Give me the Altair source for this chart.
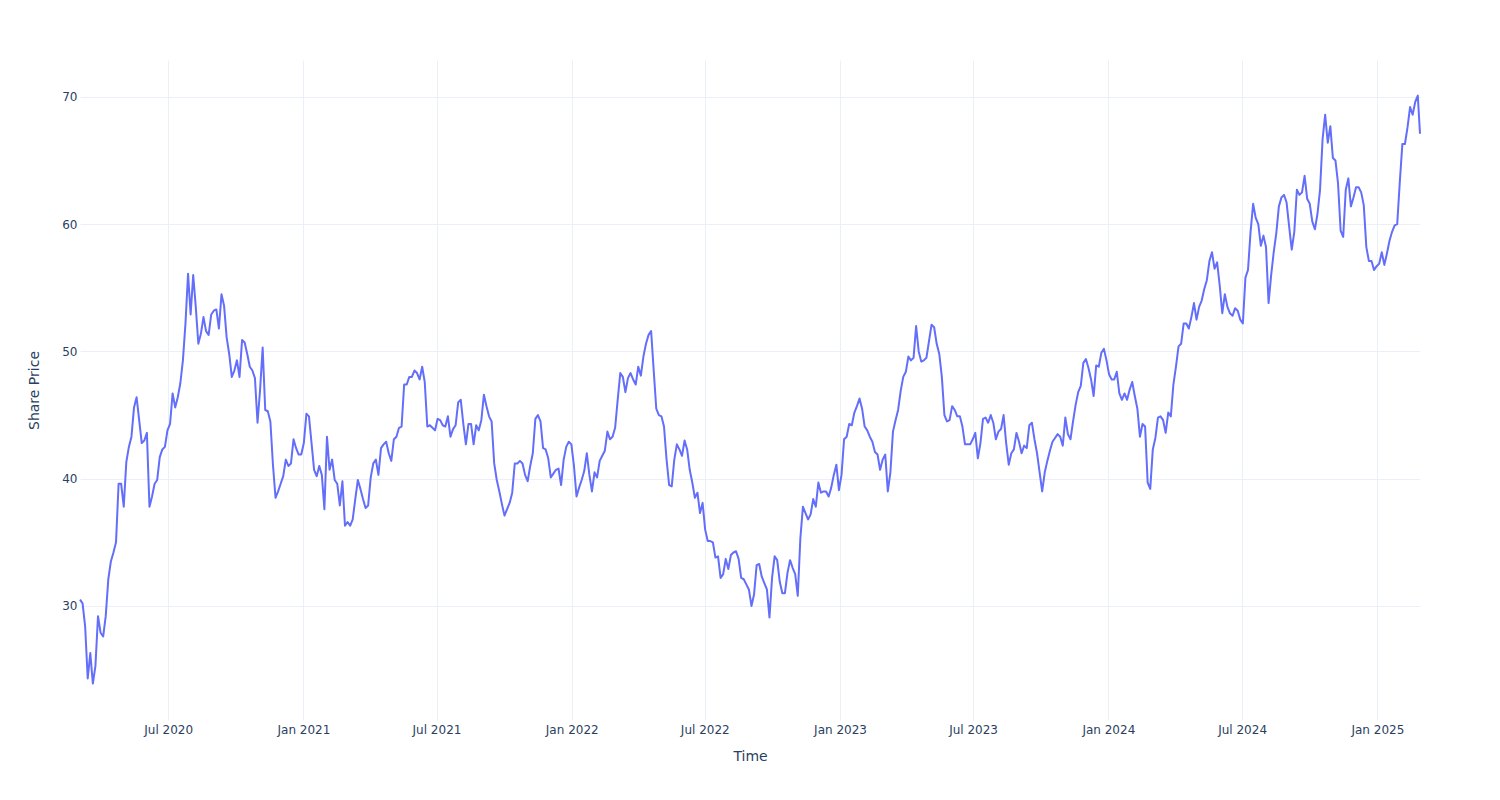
import altair as alt
import pandas as pd

# Share-price readings every half week (Mar 2020 - Feb 2025)
start_date = "2020-03-03"
step = "84h"
prices = [
    30.5, 30.2, 28.4, 24.3, 26.3, 23.9, 25.3, 29.2, 27.9, 27.6,
    29.2, 32.1, 33.5, 34.2, 35.0, 39.6, 39.6, 37.8, 41.3, 42.5,
    43.3, 45.6, 46.4, 44.6, 42.8, 43.0, 43.6, 37.8, 38.6, 39.6,
    39.9, 41.7, 42.3, 42.5, 43.8, 44.3, 46.7, 45.6, 46.4, 47.5,
    49.3, 52.2, 56.1, 52.9, 56.0, 53.5, 50.6, 51.4, 52.7, 51.6,
    51.3, 52.9, 53.2, 53.3, 51.8, 54.5, 53.6, 51.1, 49.8, 48.0,
    48.5, 49.3, 48.0, 50.9, 50.7, 49.8, 48.8, 48.5, 47.9, 44.4,
    47.0, 50.3, 45.4, 45.3, 44.5, 41.1, 38.5, 39.0, 39.6, 40.2,
    41.5, 41.0, 41.2, 43.1, 42.4, 41.9, 41.9, 42.8, 45.1, 44.9,
    42.8, 40.7, 40.2, 41.0, 40.3, 37.6, 43.3, 40.7, 41.5, 39.9,
    39.6, 37.9, 39.8, 36.3, 36.6, 36.3, 36.8, 38.4, 39.9, 39.2,
    38.4, 37.7, 37.9, 40.1, 41.2, 41.5, 40.3, 42.4, 42.7, 42.9,
    42.0, 41.4, 43.1, 43.3, 44.0, 44.1, 47.4, 47.4, 48.0, 48.0,
    48.5, 48.3, 47.8, 48.8, 47.6, 44.1, 44.2, 44.0, 43.8, 44.7,
    44.6, 44.2, 44.1, 44.9, 43.3, 43.9, 44.2, 46.0, 46.2, 44.3,
    42.7, 44.3, 44.3, 42.7, 44.2, 43.8, 44.6, 46.6, 45.7, 44.9,
    44.5, 41.2, 39.9, 39.0, 38.0, 37.1, 37.6, 38.1, 38.9, 41.2,
    41.2, 41.4, 41.2, 40.3, 39.8, 41.0, 42.0, 44.7, 45.0, 44.5,
    42.4, 42.3, 41.6, 40.1, 40.4, 40.7, 40.8, 39.5, 41.5, 42.5,
    42.9, 42.7, 41.0, 38.6, 39.3, 39.9, 40.6, 42.0, 40.3, 39.0,
    40.5, 40.1, 41.4, 41.8, 42.2, 43.7, 43.1, 43.3, 44.0, 46.2,
    48.3, 48.0, 46.8, 47.9, 48.3, 47.8, 47.4, 48.8, 48.1, 49.6,
    50.6, 51.3, 51.6, 48.5, 45.5, 45.0, 44.9, 44.1, 41.5, 39.5,
    39.4, 41.5, 42.7, 42.3, 41.8, 43.0, 42.3, 40.7, 39.7, 38.5,
    38.9, 37.3, 38.1, 36.0, 35.1, 35.1, 35.0, 33.8, 33.9, 32.2,
    32.5, 33.7, 32.9, 34.0, 34.2, 34.3, 33.7, 32.2, 32.1, 31.7,
    31.3, 30.0, 30.9, 33.2, 33.3, 32.3, 31.8, 31.3, 29.1, 32.2,
    33.9, 33.6, 31.9, 31.0, 31.0, 32.6, 33.6, 33.0, 32.5, 30.8,
    35.3, 37.8, 37.3, 36.8, 37.2, 38.4, 37.8, 39.7, 38.9, 39.0,
    39.0, 38.6, 39.3, 40.3, 41.1, 39.1, 40.3, 43.1, 43.3, 44.3,
    44.2, 45.2, 45.7, 46.3, 45.5, 44.1, 43.8, 43.3, 42.9, 42.1,
    41.9, 40.7, 41.5, 41.9, 39.0, 40.5, 43.7, 44.6, 45.4, 46.9,
    48.0, 48.4, 49.6, 49.3, 49.5, 52.0, 50.0, 49.2, 49.3, 49.5,
    50.8, 52.1, 51.9, 50.6, 49.8, 48.0, 45.0, 44.5, 44.6, 45.7,
    45.4, 44.9, 44.9, 44.1, 42.7, 42.7, 42.7, 43.1, 43.6, 41.6,
    42.8, 44.7, 44.8, 44.4, 45.0, 44.4, 43.1, 43.7, 43.9, 45.0,
    42.8, 41.1, 42.0, 42.3, 43.6, 42.9, 42.0, 42.6, 42.4, 44.2,
    44.4, 43.1, 42.0, 40.5, 39.0, 40.5, 41.4, 42.2, 42.9, 43.2,
    43.5, 43.3, 42.6, 44.8, 43.5, 43.1, 44.5, 45.8, 46.8, 47.3,
    49.1, 49.4, 48.7, 47.8, 46.5, 48.9, 48.8, 49.9, 50.2, 49.3,
    48.2, 47.8, 47.8, 48.4, 46.7, 46.2, 46.7, 46.2, 47.0, 47.6,
    46.5, 45.5, 43.3, 44.3, 44.1, 39.7, 39.2, 42.3, 43.2, 44.8,
    44.9, 44.6, 43.6, 45.2, 44.9, 47.4, 48.8, 50.4, 50.6, 52.2,
    52.2, 51.8, 52.7, 53.8, 52.5, 53.5, 54.0, 54.9, 55.6, 57.1,
    57.8, 56.5, 57.0, 55.2, 53.0, 54.5, 53.5, 53.0, 52.8, 53.4,
    53.2, 52.5, 52.2, 55.8, 56.4, 59.4, 61.6, 60.5, 60.0, 58.3,
    59.1, 58.2, 53.8, 56.0, 57.8, 59.3, 61.4, 62.1, 62.3, 61.7,
    59.8, 58.0, 59.4, 62.7, 62.3, 62.5, 63.8, 62.0, 61.6, 60.2,
    59.6, 60.8, 62.7, 66.7, 68.6, 66.4, 67.7, 65.2, 65.0, 63.2,
    59.5, 59.0, 62.7, 63.6, 61.4, 62.1, 62.9, 62.9, 62.5, 61.5,
    58.2, 57.1, 57.1, 56.4, 56.7, 56.9, 57.8, 56.8, 57.7, 58.7,
    59.4, 59.9, 60.0, 63.3, 66.3, 66.3, 67.6, 69.2, 68.6, 69.6,
    70.1,
]
last_date = "2025-02-28"
last_price = 67.1

dates = list(pd.date_range(start_date, periods=len(prices), freq=step)) + [pd.Timestamp(last_date)]
values = prices + [last_price]
df = pd.DataFrame({"Time": dates, "Share Price": values})

tick_months = [(2020, 7), (2021, 1), (2021, 7), (2022, 1), (2022, 7),
               (2023, 1), (2023, 7), (2024, 1), (2024, 7), (2025, 1)]
tick_dates = [alt.DateTime(year=y, month=m, date=1) for (y, m) in tick_months]
y_ticks = [30, 40, 50, 60, 70]

FONT = "DejaVu Sans"
TXT = "#2a3f5f"
GRID = "#EBF0F8"

chart = (
    alt.Chart(df)
    .mark_line(color="#636efa", strokeWidth=2, strokeJoin="round")
    .encode(
        x=alt.X(
            "Time:T",
            scale=alt.Scale(nice=False),
            axis=alt.Axis(
                values=tick_dates,
                format="%b %Y",
                title="Time",
                titleX=670,
                titleY=36,
                titleBaseline="middle",
                labelPadding=4,
            ),
        ),
        y=alt.Y(
            "Share Price:Q",
            scale=alt.Scale(domain=[21.04, 72.9], nice=False, zero=False),
            axis=alt.Axis(
                values=y_ticks,
                title="Share Price",
                titleX=-46,
                titleY=330,
                titleAngle=-90,
                titleBaseline="middle",
                titleAlign="center",
                labelPadding=3,
            ),
        ),
    )
    .properties(
        width=1340,
        height=660,
        background="white",
        autosize=alt.AutoSizeParams(type="none"),
        padding={"left": 80, "top": 60, "right": 80, "bottom": 80},
    )
    .configure_view(stroke=None)
    .configure_axis(
        domain=False,
        ticks=False,
        grid=True,
        gridColor=GRID,
        gridWidth=1,
        labelFont=FONT,
        labelFontSize=12,
        labelColor=TXT,
        titleFont=FONT,
        titleFontSize=14,
        titleFontWeight="normal",
        titleColor=TXT,
    )
)

chart.save("out.html", embed_options={"renderer": "svg", "actions": False})
